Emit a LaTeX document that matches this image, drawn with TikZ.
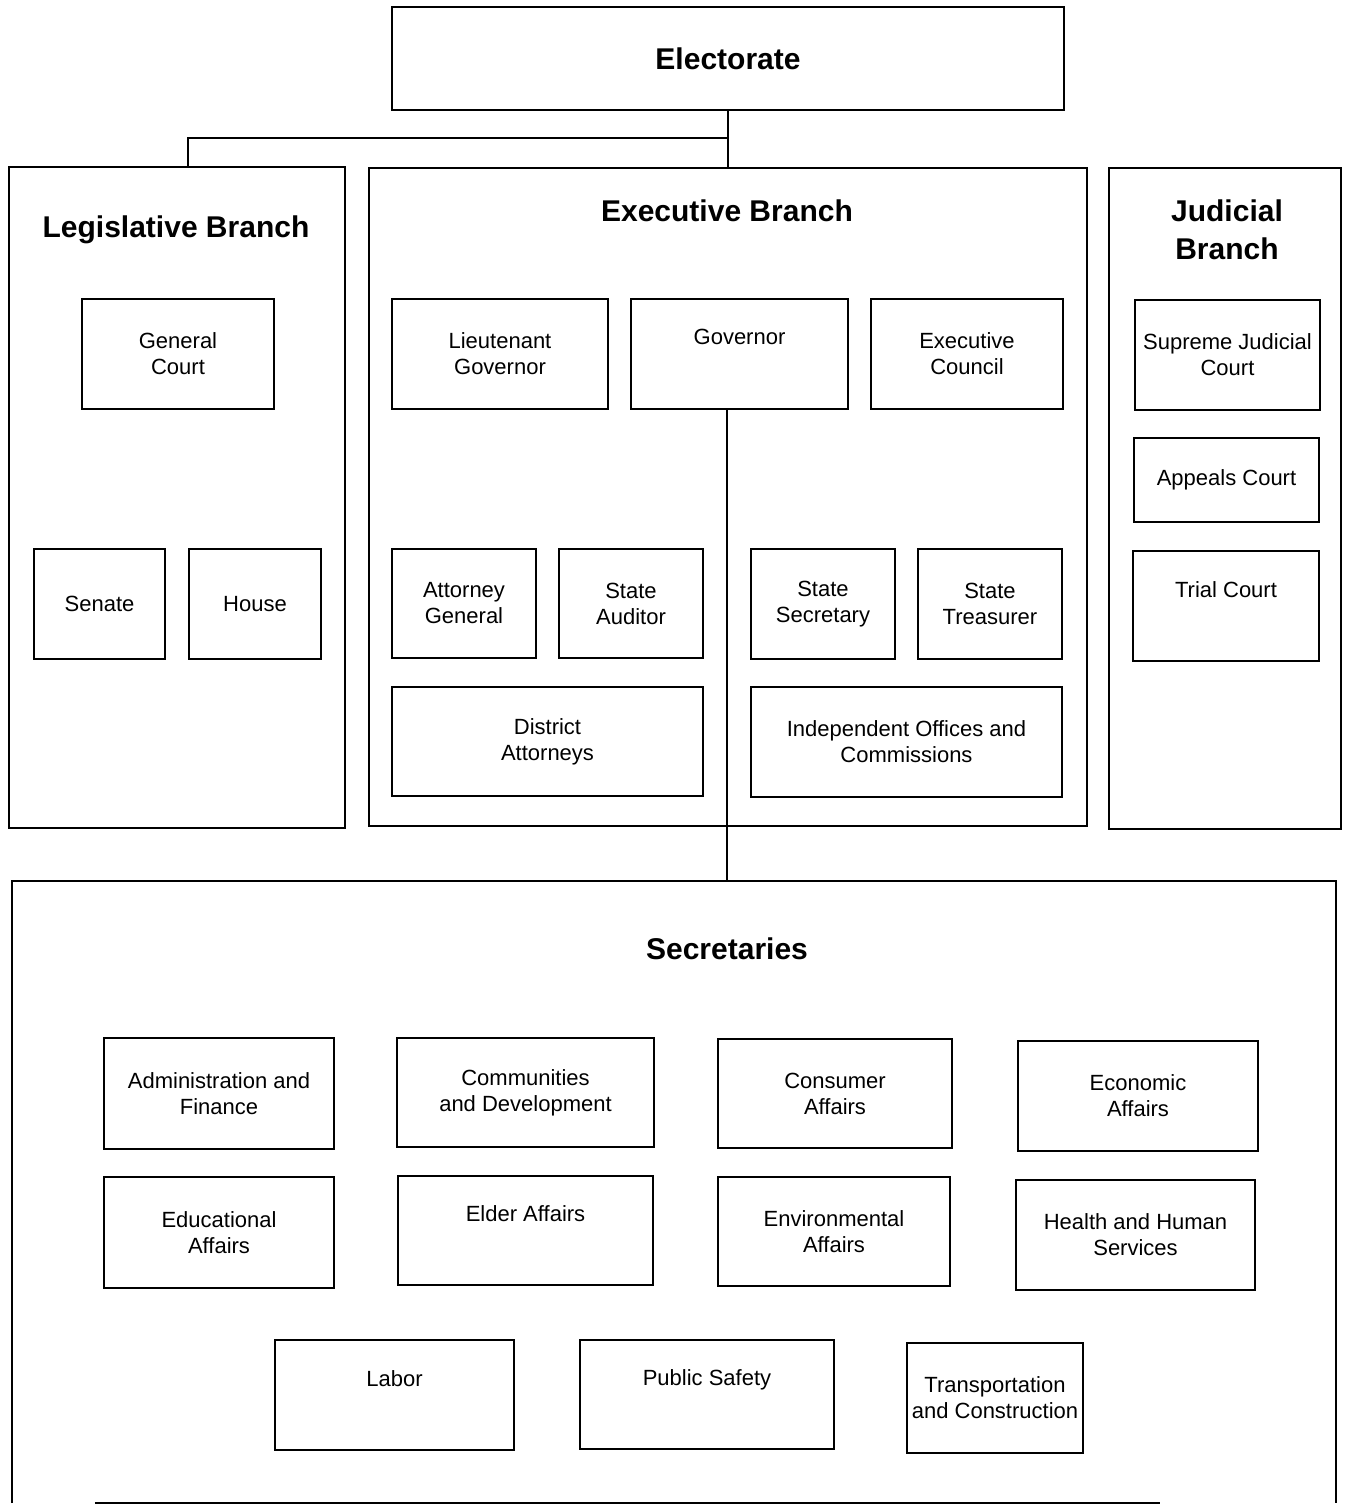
\documentclass[tikz,border=0pt]{standalone}
\usepackage{fontspec}
\setmainfont{Liberation Sans}
\begin{document}
\begin{tikzpicture}[x=1pt,y=-1pt,
  box/.style={draw, line width=2.6pt, inner sep=0pt, align=center,
    font=\fontsize{22}{26}\selectfont},
  container/.style={draw, line width=2.4pt, inner sep=0pt},
  title/.style={inner sep=0pt, align=center, font=\fontsize{30}{38}\selectfont\bfseries},
  conn/.style={line width=2.2pt}]
\useasboundingbox (0,0) rectangle (1346,1505);

% containers
\node[container, minimum width=672, minimum height=103, font=\fontsize{30}{38}\selectfont\bfseries] (elect) at (728,58.5) {Electorate};
\node[container, minimum width=336, minimum height=661] (leg) at (177,497.5) {};
\node[container, minimum width=718, minimum height=658] (exec) at (728,497) {};
\node[container, minimum width=232, minimum height=661] (jud) at (1225,498.5) {};
\node[inner sep=0pt, minimum width=1324, minimum height=622] (secr) at (674,1192) {};
\draw[line width=2.4pt] (secr.south west) -- (secr.north west) -- (secr.north east) -- (secr.south east);
\draw[line width=2.4pt] ([xshift=83]secr.south west) -- ([xshift=-176]secr.south east);

% titles
\node[title] (legt) at (176,230) {Legislative Branch};
\node[title] (exect) at (727,211) {Executive Branch};
\node[title] (judt) at (1227,230) {Judicial\\Branch};
\node[title] (secrt) at (727,949) {Secretaries};

% legislative
\node[box, minimum width=192, minimum height=110] (gc) at (178,354) {General\\Court};
\node[box, minimum width=131, minimum height=110] (senate) at (99.5,604) {Senate};
\node[box, minimum width=132, minimum height=110] (house) at (255,604) {House};

% executive
\node[box, minimum width=216, minimum height=110] (ltgov) at (500,354) {Lieutenant\\Governor};
\node[box, minimum width=217, minimum height=110] (gov) at (739.5,354) {Governor\\\strut};
\node[box, minimum width=192, minimum height=110] (excouncil) at (967,354) {Executive\\Council};
\node[box, minimum width=144, minimum height=109] (ag) at (464,603.5) {Attorney\\General};
\node[box, minimum width=144, minimum height=109] (aud) at (631,603.5) {State\\Auditor};
\node[box, minimum width=144, minimum height=110] (ssec) at (823,604) {State\\Secretary};
\node[box, minimum width=144, minimum height=110] (treas) at (990,604) {State\\Treasurer};
\node[box, minimum width=311, minimum height=109] (da) at (547.5,741.5) {District\\Attorneys};
\node[box, minimum width=311, minimum height=110] (ind) at (906.5,742) {Independent Offices and\\Commissions};

% judicial
\node[box, minimum width=185, minimum height=110] (sjc) at (1227.5,355) {Supreme Judicial\\Court};
\node[box, minimum width=185, minimum height=84] (appeals) at (1226.5,480) {Appeals Court};
\node[box, minimum width=186, minimum height=110] (trial) at (1226,606) {Trial Court\\\strut};

% secretaries
\node[box, minimum width=230, minimum height=111] (af) at (219,1093.5) {Administration and\\Finance};
\node[box, minimum width=257, minimum height=109] (cd) at (525.5,1092.5) {Communities\\and Development};
\node[box, minimum width=234, minimum height=109] (ca) at (835,1093.5) {Consumer\\Affairs};
\node[box, minimum width=240, minimum height=110] (ea) at (1138,1096) {Economic\\Affairs};
\node[box, minimum width=230, minimum height=111] (edu) at (219,1232.5) {Educational\\Affairs};
\node[box, minimum width=255, minimum height=109] (elder) at (525.5,1230.5) {Elder Affairs\\\strut};
\node[box, minimum width=232, minimum height=109] (env) at (834,1231.5) {Environmental\\Affairs};
\node[box, minimum width=239, minimum height=110] (hhs) at (1135.5,1235) {Health and Human\\Services};
\node[box, minimum width=239, minimum height=110] (labor) at (394.5,1395) {Labor\\\strut};
\node[box, minimum width=254, minimum height=109] (ps) at (707,1394.5) {Public Safety\\\strut};
\node[box, minimum width=176, minimum height=110] (tc) at (995,1398) {Transportation\\and Construction};

% connectors
\coordinate (split) at (727,138);
\draw[conn] (elect.south) -- (elect.south |- exec.north);
\draw[conn] (split) -| ([xshift=11]leg.north);
\draw[conn] (gov.south -| split) -- (secr.north -| split);
\end{tikzpicture}
\end{document}
